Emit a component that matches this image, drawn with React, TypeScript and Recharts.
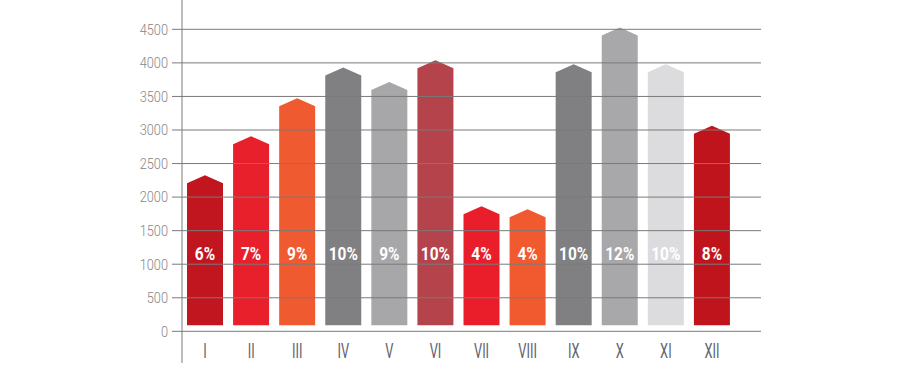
import React from 'react';
import { BarChart, Bar, XAxis, YAxis, ReferenceLine, Cell } from 'recharts';

const months = ['I', 'II', 'III', 'IV', 'V', 'VI', 'VII', 'VIII', 'IX', 'X', 'XI', 'XII'];
const values = [2325, 2906, 3472, 3930, 3715, 4040, 1863, 1818, 3979, 4526, 3979, 3065];
const shares = ['6%', '7%', '9%', '10%', '9%', '10%', '4%', '4%', '10%', '12%', '10%', '8%'];
const yTicks = [0, 500, 1000, 1500, 2000, 2500, 3000, 3500, 4000, 4500];

const barColors = [
  '#c1161f', '#e8202b', '#f05a30', '#808082', '#a7a7a9', '#b4434b',
  '#e91e2a', '#f15a2e', '#808082', '#a8a8aa', '#dcdcde', '#c0141c',
];

const data = months.map((m, i) => ({ month: m, value: values[i], share: shares[i] }));

const FONT = "Roboto, 'DejaVu Sans Condensed', sans-serif";

const ArrowBar = (props: any) => {
  const { x, y, width, height, fill, payload } = props;
  if (height == null || height <= 0) return null;
  const bottom = y + height - 6;
  const d = `M${x},${y + 8} L${x + width / 2},${y} L${x + width},${y + 8} L${x + width},${bottom} L${x},${bottom} Z`;
  return (
    <g>
      <path d={d} fill={fill} />
      <text
        transform={`translate(${x + width / 2},${bottom - 72}) scale(0.86,1)`}
        textAnchor="middle"
        dominantBaseline="central"
        fill="#ffffff"
        fontFamily={FONT}
        fontWeight="bold"
        fontSize={18}
      >
        {payload.share}
      </text>
    </g>
  );
};

const XTick = (props: any) => {
  const { x, y, payload } = props;
  return (
    <text
      transform={`translate(${x},${y - 12}) scale(0.64,1)`}
      textAnchor="middle"
      dominantBaseline="central"
      fill="#62626f"
      fontFamily={FONT}
      fontWeight={400}
      fontSize={20}
    >
      {payload.value}
    </text>
  );
};

const YTick = (props: any) => {
  const { x, y, payload } = props;
  return (
    <text
      transform={`translate(${x},${y}) scale(0.85,1)`}
      textAnchor="end"
      dominantBaseline="central"
      fill="#868686"
      fontFamily={FONT}
      fontWeight={300}
      fontSize={15}
    >
      {payload.value}
    </text>
  );
};

export default function App() {
  return (
    <div style={{ position: 'absolute', left: 0, top: 0, background: '#ffffff' }}>
      <BarChart
        width={902}
        height={377}
        data={data}
        margin={{ top: 0, right: 141, bottom: 13, left: 122 }}
      >
        <XAxis
          dataKey="month"
          height={1}
          axisLine={false}
          tickLine={false}
          tickSize={0}
          tickMargin={0}
          padding={{ left: 0, right: 26 }}
          tick={<XTick />}
          interval={0}
        />
        <YAxis
          type="number"
          width={60}
          domain={[-472, 4937]}
          ticks={yTicks}
          allowDataOverflow
          axisLine={{ stroke: '#7a7a7a', strokeWidth: 1 }}
          tickLine={{ stroke: '#7a7a7a', strokeWidth: 1 }}
          tickSize={10}
          tickMargin={4}
          tick={<YTick />}
        />
        {yTicks.map((t) => (
          <ReferenceLine key={t} y={t} stroke="#7a7a7a" strokeWidth={1} />
        ))}
        <Bar dataKey="value" barSize={36} shape={<ArrowBar />} isAnimationActive={false}>
          {data.map((d, i) => (
            <Cell key={d.month} fill={barColors[i]} />
          ))}
        </Bar>
      </BarChart>
    </div>
  );
}
